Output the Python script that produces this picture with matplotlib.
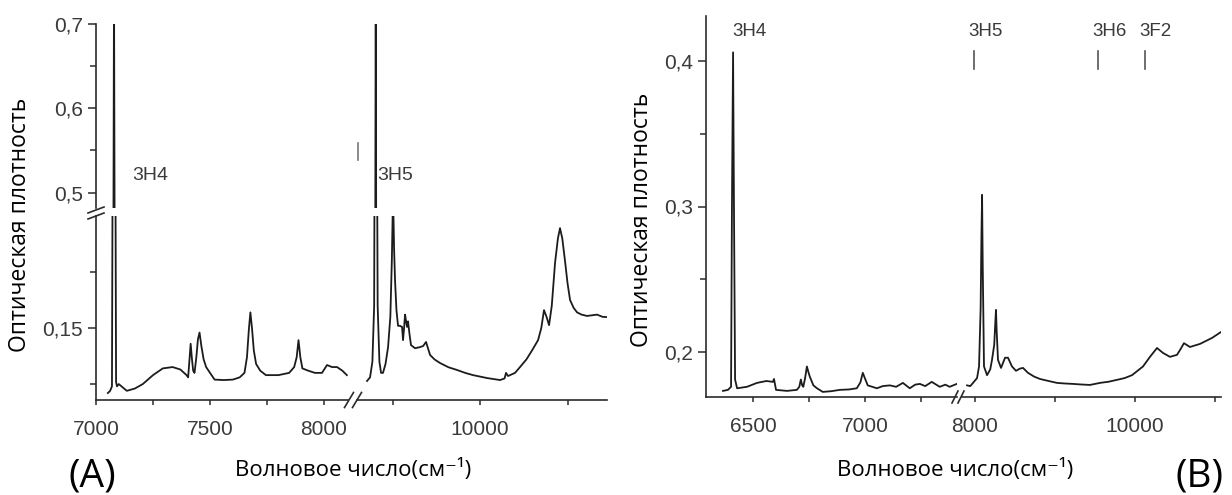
import matplotlib
matplotlib.use('Agg')
from matplotlib import pyplot as plt
from matplotlib.lines import Line2D

W, H = 1232, 495

# (A) спектр, левая часть разорванной оси X
a1_wn = [7052, 7062, 7070, 7075, 7079, 7083, 7088, 7092, 7100, 7135, 7170, 7205, 7250, 7293, 7336,
         7370, 7397, 7404, 7410, 7415, 7420, 7426, 7432, 7440, 7447, 7454, 7462, 7472, 7483, 7500,
         7520, 7560, 7600, 7630, 7651, 7662, 7670, 7677, 7684, 7692, 7702, 7720, 7745, 7800, 7847,
         7869, 7880, 7888, 7896, 7905, 7930, 7960, 7991, 8013, 8035, 8057, 8080, 8100]
a1_od = [0.121, 0.122, 0.124, 0.30, 0.75, 0.30, 0.126, 0.124, 0.125, 0.122, 0.123, 0.125, 0.129, 0.132, 0.1326,
         0.1315, 0.129, 0.128, 0.136, 0.143, 0.137, 0.131, 0.130, 0.137, 0.145, 0.148, 0.142, 0.136, 0.1326, 0.130,
         0.127, 0.1268, 0.127, 0.128, 0.130, 0.137, 0.149, 0.157, 0.150, 0.140, 0.134, 0.131, 0.129, 0.129, 0.130,
         0.1326, 0.137, 0.1446, 0.137, 0.132, 0.131, 0.130, 0.130, 0.1335, 0.1326, 0.1326, 0.131, 0.129]

# (A) правая часть
a2_wn = [8709, 8743, 8770, 8790, 8800, 8808, 8816, 8830, 8850, 8869, 8891, 8920, 8949, 8975, 8992,
         9006, 9018, 9029, 9045, 9063, 9085, 9109, 9120, 9132, 9143, 9155, 9166, 9177, 9195, 9211,
         9257, 9314, 9350, 9383, 9405, 9429, 9480, 9543, 9640, 9737, 9830, 9920, 10080, 10229, 10280,
         10297, 10320, 10400, 10457, 10530, 10594, 10663, 10700, 10731, 10760, 10789, 10820, 10857, 10890, 10914,
         10940, 10971, 11000, 11029, 11070, 11109, 11160, 11223, 11280, 11337, 11400, 11451]
a2_od = [0.1264, 0.128, 0.135, 0.16, 0.30, 0.75, 0.30, 0.16, 0.135, 0.130, 0.130, 0.134, 0.1415, 0.155, 0.18,
         0.21, 0.185, 0.171, 0.158, 0.151, 0.151, 0.1505, 0.1446, 0.150, 0.156, 0.153, 0.1505, 0.153, 0.147, 0.1424,
         0.141, 0.1415, 0.142, 0.1438, 0.141, 0.138, 0.136, 0.1344, 0.1325, 0.1313, 0.130, 0.129, 0.1277, 0.1268, 0.1275,
         0.130, 0.1286, 0.130, 0.1326, 0.136, 0.140, 0.1446, 0.150, 0.158, 0.155, 0.1513, 0.160, 0.179, 0.190, 0.1946,
         0.190, 0.180, 0.170, 0.1625, 0.159, 0.157, 0.156, 0.1554, 0.1557, 0.156, 0.155, 0.1549]

# (B) левая часть
b1_wn = [6366, 6388, 6402, 6406, 6411, 6415, 6420, 6429, 6473, 6518, 6560, 6589, 6594, 6603, 6652,
         6696, 6707, 6714, 6720, 6725, 6733, 6741, 6748, 6754, 6770, 6786, 6812, 6850, 6888, 6930,
         6964, 6980, 6991, 7000, 7013, 7054, 7080, 7112, 7140, 7170, 7201, 7225, 7246, 7270, 7299,
         7335, 7360, 7379, 7395, 7411]
b1_od = [0.1732, 0.1739, 0.176, 0.30, 0.406, 0.30, 0.181, 0.175, 0.176, 0.1787, 0.180, 0.1794, 0.1814, 0.1739, 0.1732,
         0.1739, 0.176, 0.181, 0.177, 0.176, 0.182, 0.190, 0.186, 0.183, 0.177, 0.175, 0.1725, 0.173, 0.1739, 0.1742,
         0.175, 0.179, 0.1856, 0.182, 0.177, 0.175, 0.1765, 0.177, 0.176, 0.1787, 0.175, 0.1775, 0.178, 0.1765, 0.1794,
         0.176, 0.1775, 0.176, 0.177, 0.178]

# (B) правая часть
b2_wn = [7900, 7940, 7975, 8025, 8050, 8070, 8080, 8088, 8096, 8112, 8150, 8190, 8212, 8240, 8255,
         8262, 8270, 8287, 8325, 8375, 8412, 8462, 8512, 8560, 8600, 8662, 8740, 8812, 8920, 9025,
         9120, 9225, 9330, 9437, 9562, 9670, 9775, 9870, 9962, 10100, 10187, 10275, 10350, 10437, 10525,
         10570, 10612, 10687, 10812, 10962, 11075]
b2_od = [0.177, 0.1765, 0.1787, 0.182, 0.19, 0.23, 0.28, 0.308, 0.26, 0.19, 0.184, 0.188, 0.1945, 0.205, 0.222,
         0.2289, 0.215, 0.1945, 0.189, 0.196, 0.196, 0.19, 0.187, 0.1885, 0.189, 0.1856, 0.183, 0.1814, 0.180, 0.1787,
         0.1783, 0.178, 0.1776, 0.1773, 0.1787, 0.1795, 0.1808, 0.182, 0.184, 0.19, 0.1966, 0.2027, 0.1993, 0.1966, 0.198,
         0.202, 0.206, 0.2034, 0.2055, 0.2096, 0.2137]

# подписи переходов
a_marks = ['3H4', '3H5']
b_marks = ['3H4', '3H5', '3H6', '3F2']
b_mark_wn = [6406, 7912, 9462, 10050]

# деления
a_ytop_ticks = [0.5, 0.6, 0.7]
a_ytop_labels = ['0,5', '0,6', '0,7']
a_ytop_minor = [0.55, 0.65]
a_ybot_ticks = [0.15]
a_ybot_labels = ['0,15']
a_ybot_minor = [0.125, 0.175]
a_x1_ticks = [7000, 7500, 8000]
a_x1_minor = [7250, 7750]
a_x2_ticks = [10000]
a_x2_minor = [9000, 11000]
b_y_ticks = [0.2, 0.3, 0.4]
b_y_labels = ['0,2', '0,3', '0,4']
b_y_minor = [0.25, 0.35]
b_x1_ticks = [6500, 7000]
b_x1_minor = [6750, 7250]
b_x2_ticks = [8000, 10000]
b_x2_minor = [9000, 11000]

xlabel = 'Волновое число(см\u207b\u00b9)'
ylabel = 'Оптическая плотность'

AX = '#2b2b2b'
TXT = '#3a3a3a'
LINE = '#1c1c1c'
TICKFONT = 'Liberation Sans'
LABFONT = ['Open Sans', 'DejaVu Sans']

fig = plt.figure(figsize=(W / 100, H / 100), dpi=100)


def box(x0, x1, y0, y1):
    # пиксельный прямоугольник -> оси
    return fig.add_axes([x0 / W, 1 - y1 / H, (x1 - x0) / W, (y1 - y0) / H])


def style(ax, left=True, bottom=True):
    ax.patch.set_alpha(0)
    for s in ['top', 'right']:
        ax.spines[s].set_visible(False)
    ax.spines['left'].set_visible(left)
    ax.spines['bottom'].set_visible(bottom)
    for s in ['left', 'bottom']:
        ax.spines[s].set_color(AX)
        ax.spines[s].set_linewidth(1.2)
    ax.tick_params(axis='y', which='major', direction='out', length=5.5, width=1.1, color=AX,
                   labelcolor=TXT, labelsize=15, pad=4)
    ax.tick_params(axis='y', which='minor', direction='out', length=4, width=1.1, color=AX)
    ax.tick_params(axis='x', which='both', direction='out', length=3.5, width=1.1, color=AX,
                   labelcolor=TXT, labelsize=15, pad=11)
    if not left:
        ax.tick_params(axis='y', which='both', left=False, labelleft=False)
    if not bottom:
        ax.tick_params(axis='x', which='both', bottom=False, labelbottom=False)
    for t in ax.get_xticklabels() + ax.get_yticklabels():
        t.set_fontfamily(TICKFONT)


def slash(xc, yc, dx, dy):
    fig.add_artist(Line2D([(xc - dx) / W, (xc + dx) / W], [1 - (yc + dy) / H, 1 - (yc - dy) / H],
                          transform=fig.transFigure, color=AX, lw=1.2))


# ---------- (A) ----------
a_tl = box(96, 348, 24, 208)
a_tr = box(357, 607, 24, 208)
a_bl = box(96, 348, 216, 400)
a_br = box(357, 607, 216, 400)

for ax in [a_tl, a_bl]:
    ax.plot(a1_wn, a1_od, color=LINE, lw=1.3)
    ax.set_xlim(7000, 8105)
for ax in [a_tr, a_br]:
    ax.plot(a2_wn, a2_od, color=LINE, lw=1.3)
    ax.set_xlim(8594, 11451)
for ax in [a_tl, a_tr]:
    ax.set_ylim(0.4817, 0.7)
for ax in [a_bl, a_br]:
    ax.set_ylim(0.1179, 0.200)

a_tl.set_yticks(a_ytop_ticks)
a_tl.set_yticklabels(a_ytop_labels)
a_tl.set_yticks(a_ytop_minor, minor=True)
a_bl.set_yticks(a_ybot_ticks)
a_bl.set_yticklabels(a_ybot_labels)
a_bl.set_yticks(a_ybot_minor, minor=True)
a_bl.set_xticks(a_x1_ticks)
a_bl.set_xticks(a_x1_minor, minor=True)
a_br.set_xticks(a_x2_ticks)
a_br.set_xticks(a_x2_minor, minor=True)

style(a_tl, left=True, bottom=False)
style(a_tr, left=False, bottom=False)
style(a_bl, left=True, bottom=True)
style(a_br, left=False, bottom=True)

a_tl.text(7161, 0.52, a_marks[0], fontsize=14, color=TXT, family=TICKFONT, va='center', ha='left')
a_tr.text(8823, 0.52, a_marks[1], fontsize=14, color=TXT, family=TICKFONT, va='center', ha='left')
a_tr.plot([8606, 8606], [0.539, 0.559], color='#777777', lw=1.2, clip_on=False)

slash(96, 210, 8, 3)
slash(96, 216, 8, 3)
slash(349, 400, 4.5, 7.5)
slash(357, 400, 4.5, 7.5)

# ---------- (B) ----------
b_l = box(706, 957, 16, 397)
b_r = box(962, 1221, 16, 397)
b_l.plot(b1_wn, b1_od, color=LINE, lw=1.3)
b_r.plot(b2_wn, b2_od, color=LINE, lw=1.3)
b_l.set_xlim(6290, 7412)
b_r.set_xlim(7837, 11075)
for ax in [b_l, b_r]:
    ax.set_ylim(0.169, 0.431)
b_l.set_yticks(b_y_ticks)
b_l.set_yticklabels(b_y_labels)
b_l.set_yticks(b_y_minor, minor=True)
b_l.set_xticks(b_x1_ticks)
b_l.set_xticks(b_x1_minor, minor=True)
b_r.set_xticks(b_x2_ticks)
b_r.set_xticks(b_x2_minor, minor=True)
style(b_l, left=True, bottom=True)
style(b_r, left=False, bottom=True)

b_l.text(b_mark_wn[0], 0.4206, b_marks[0], fontsize=13.5, color=TXT, family=TICKFONT, va='center', ha='left')
for name, wn in zip(b_marks[1:], b_mark_wn[1:]):
    b_r.text(wn, 0.4206, name, fontsize=13.5, color=TXT, family=TICKFONT, va='center', ha='left')
    b_r.plot([wn + 80, wn + 80], [0.3945, 0.4069], color='#555555', lw=1.2)

slash(955, 397, 3, 6)
slash(961, 397, 3, 6)

# ---------- подписи ----------
fig.text(20 / W, 1 - 225 / H, ylabel, rotation=90, ha='center', va='center', fontsize=16.5, family=LABFONT, color='black')
fig.text(642 / W, 1 - 220 / H, ylabel, rotation=90, ha='center', va='center', fontsize=16.5, family=LABFONT, color='black')
fig.text(353 / W, 1 - 470 / H, xlabel, ha='center', va='center', fontsize=16, family=LABFONT, color='black')
fig.text(955 / W, 1 - 470 / H, xlabel, ha='center', va='center', fontsize=16, family=LABFONT, color='black')
fig.text(92 / W, 1 - 476 / H, '(A)', ha='center', va='center', fontsize=28, family=LABFONT, color='black')
fig.text(1200 / W, 1 - 476 / H, '(B)', ha='center', va='center', fontsize=28, family=LABFONT, color='black')

fig.savefig('out.png', dpi=100)
